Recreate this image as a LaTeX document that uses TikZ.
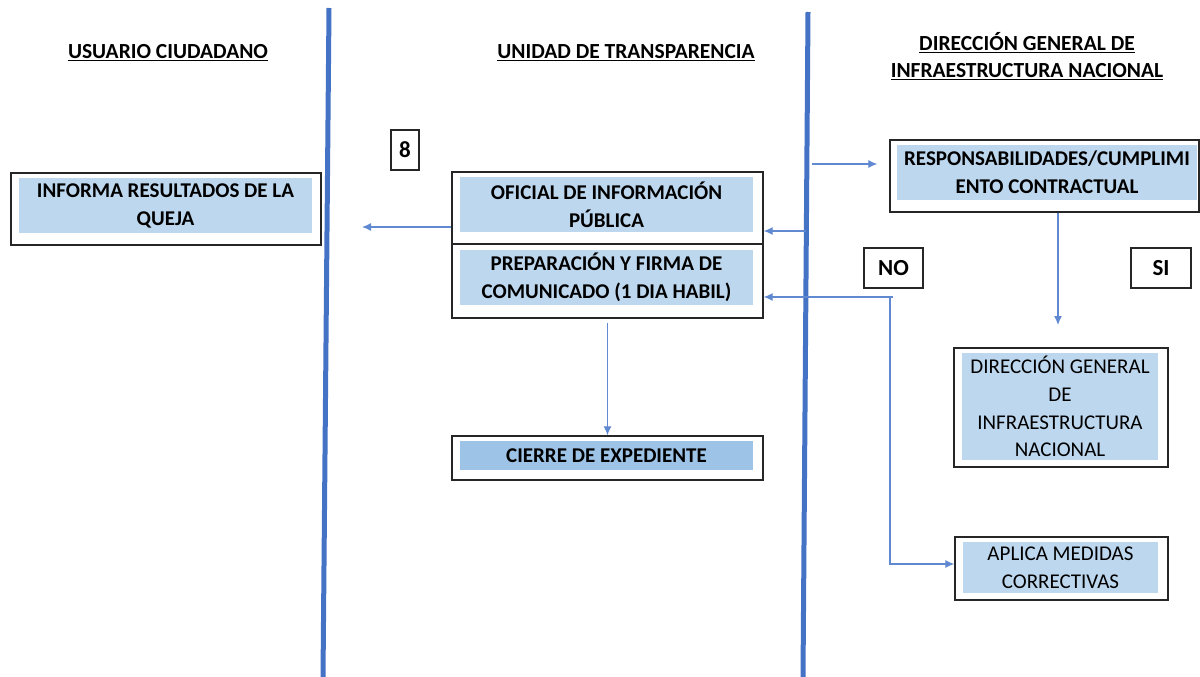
\documentclass[tikz,border=0pt]{standalone}
\usepackage{fontspec}
\setmainfont{Carlito}
\usepackage{tikz}
\usetikzlibrary{
  arrows.meta,%
  calc,%
  positioning
}
\definecolor{laneblue}{RGB}{68,114,196}
\definecolor{flowblue}{RGB}{96,137,210}
\definecolor{boxblue}{RGB}{189,215,238}
\definecolor{darkblue}{RGB}{157,195,230}
\tikzset{>={Latex[length=9pt,width=8pt]}}
\newcommand{\headline}[1]{\underline{#1}}
\tikzset{
  lane/.style={draw=laneblue, line width=5pt},
  flow/.style={->, draw=flowblue, line width=1.2pt},
  outerbox/.style={draw=black!85, line width=1.3pt, inner sep=0pt},
  fillbox/.style={fill=boxblue, inner sep=0pt, align=center,
    font=\fontsize{21}{28}\selectfont\bfseries},
  plainbox/.style={fillbox, font=\fontsize{21}{27.7}\selectfont},
  tagbox/.style={draw=black!85, line width=1.3pt, inner sep=0pt,
    font=\fontsize{23}{26}\selectfont\bfseries},
  header/.style={align=center, font=\fontsize{21.5}{27}\selectfont\bfseries}
}

\begin{document}
\begin{tikzpicture}[x=1pt,y=-1pt]
  \useasboundingbox (0,0) rectangle (1200,677);
  % swimlanes
  \draw[lane] (329,8) -- (323,677);
  \draw[lane] (808,12) -- (803,677);
  \node[header] (usuario) at (168,53) {\headline{USUARIO CIUDADANO}};
  \node[header] (unidad) at (626,53) {\headline{UNIDAD DE TRANSPARENCIA}};
  \node[header] (dgin) at (1027,56)
    {\headline{DIRECCIÓN GENERAL DE}\\\headline{INFRAESTRUCTURA NACIONAL}};
  % boxes
  \node[tagbox, minimum width=28pt, minimum height=40pt] (ocho) at (405,150) {8};
  \node[outerbox, minimum width=310pt, minimum height=72pt] (informabox) at (166,209) {};
  \node[fillbox, minimum width=293pt, minimum height=55pt] (informa) at (165.5,205.5)
    {INFORMA RESULTADOS DE LA\\QUEJA};
  \node[outerbox, minimum width=311pt, minimum height=72pt] (oficialbox) at (607.5,208) {};
  \node[fillbox, minimum width=293pt, minimum height=55pt] (oficial) at (606.5,204.5)
    {OFICIAL DE INFORMACIÓN\\PÚBLICA};
  \node[outerbox, minimum width=311pt, minimum height=74pt] (prepbox) at (607.5,281) {};
  \node[fillbox, minimum width=293pt, minimum height=55pt] (prep) at (606.5,277.5)
    {PREPARACIÓN Y FIRMA DE\\COMUNICADO (1 DIA HABIL)};
  \node[outerbox, minimum width=311pt, minimum height=44pt] (cierrebox) at (607.5,458) {};
  \node[fillbox, fill=darkblue, minimum width=293pt, minimum height=29pt] (cierre) at (606.5,455.5)
    {CIERRE DE EXPEDIENTE};
  \node[outerbox, minimum width=309pt, minimum height=72pt] (respbox) at (1044.5,176) {};
  \node[fillbox, minimum width=300pt, minimum height=55pt] (resp) at (1047,172.5)
    {RESPONSABILIDADES/CUMPLIMI\\ENTO CONTRACTUAL};
  \node[tagbox, minimum width=59pt, minimum height=40pt] (no) at (893.5,268) {NO};
  \node[tagbox, minimum width=60pt, minimum height=40pt] (si) at (1161,268) {SI};
  \node[outerbox, minimum width=214pt, minimum height=119pt] (dirbox) at (1061,407.5) {};
  \node[plainbox, minimum width=196pt, minimum height=107pt] (dir) at (1060,406.5)
    {DIRECCIÓN GENERAL\\DE\\INFRAESTRUCTURA\\NACIONAL};
  \node[outerbox, minimum width=213pt, minimum height=63pt] (aplicabox) at (1061.5,568.5) {};
  \node[plainbox, minimum width=195pt, minimum height=51pt] (aplica) at (1060.5,567.5)
    {APLICA MEDIDAS\\CORRECTIVAS};
  % connectors
  \coordinate (informain) at (362,227);
  \coordinate (lanein) at (806,231);
  \coordinate (laneout) at (812,164);
  \coordinate (sidown) at (1058,325);
  \coordinate (nosplit) at (890,297);
  \draw[flow] (oficialbox.west |- informain) -- (informain);
  \draw[flow] (lanein) -- (lanein -| oficialbox.east);
  \draw[flow] (laneout) -- ([xshift=-12pt]respbox.west |- laneout);
  \draw[flow] (respbox.south -| sidown) -- (sidown);
  \draw[flow] ([xshift=3pt]nosplit) -- (nosplit -| prepbox.east);
  \draw[flow] (nosplit) -- ([yshift=4.5pt]nosplit |- aplicabox.west)
    -- ([yshift=4.5pt]aplicabox.west);
  \draw[flow, shorten <=4pt] (prepbox.south) -- (cierrebox.north);
\end{tikzpicture}
\end{document}
